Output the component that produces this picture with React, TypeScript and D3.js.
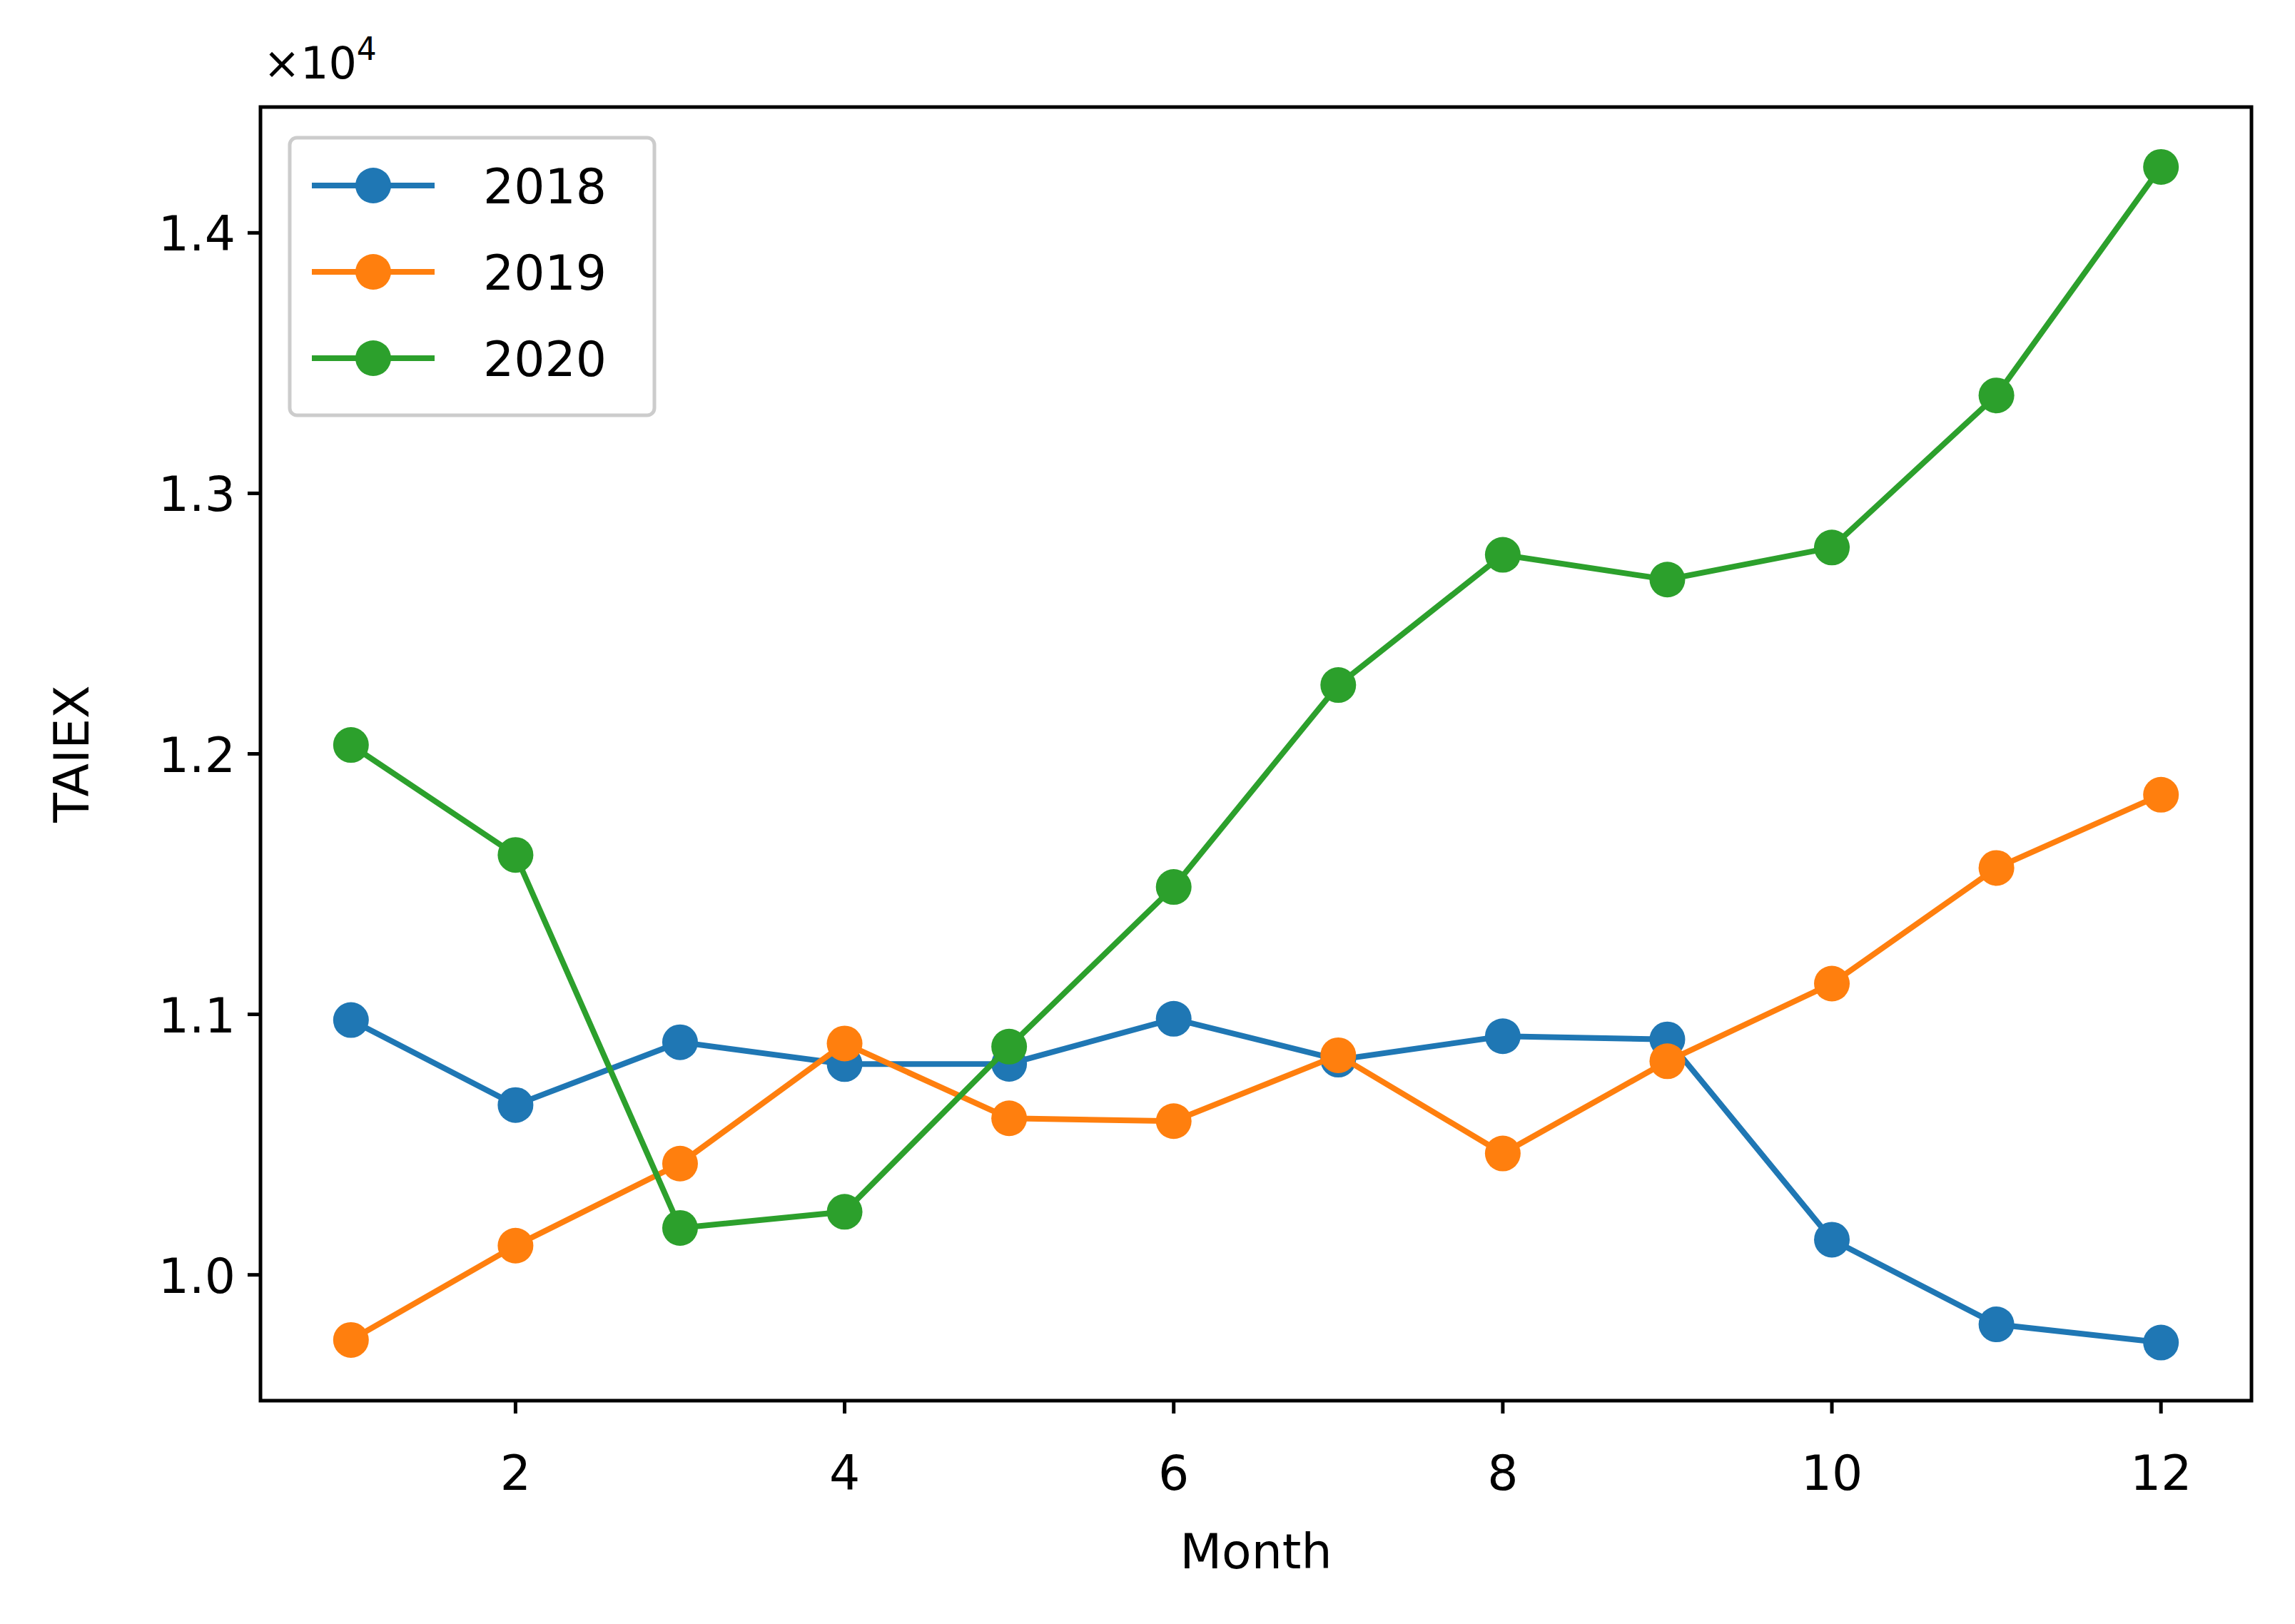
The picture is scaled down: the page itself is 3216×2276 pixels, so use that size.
import React from 'react';
import * as d3 from 'd3';

const months = [1, 2, 3, 4, 5, 6, 7, 8, 9, 10, 11, 12];
const taiex2018 = [10978, 10652, 10893, 10809, 10810, 10983, 10826, 10916, 10904, 10135, 9810, 9740];
const taiex2019 = [9750, 10112, 10427, 10888, 10601, 10590, 10843, 10466, 10820, 11118, 11562, 11843];
const taiex2020 = [12034, 11612, 10180, 10242, 10876, 11489, 12264, 12764, 12669, 12792, 13376, 14253];
const seriesNames = ['2018', '2019', '2020'];
const colors = ['#1f77b4', '#ff7f0e', '#2ca02c'];
const xTicks = [2, 4, 6, 8, 10, 12];
const yTicks = [10000, 11000, 12000, 13000, 14000];

const W = 3216, H = 2276;
const L = 365, R = 3155, T = 150, B = 1963;
const font = 'DejaVu Sans, sans-serif';
const fs = 68;

export default function App() {
  const x = d3.scaleLinear().domain([0.45, 12.55]).range([L, R]);
  const y = d3.scaleLinear().domain([9517, 14483]).range([B, T]);
  const line = d3.line<number>().x((_, i) => x(months[i])).y(d => y(d));
  const all = [taiex2018, taiex2019, taiex2020];
  return (
    <svg width={W} height={H} style={{ display: 'block', position: 'absolute', left: 0, top: 0 }}>
      <rect width={W} height={H} fill="#fff" />
      {all.map((s, k) => (
        <g key={k}>
          <path d={line(s) || ''} fill="none" stroke={colors[k]} strokeWidth={8} />
          {s.map((v, i) => <circle key={i} cx={x(months[i])} cy={y(v)} r={25} fill={colors[k]} />)}
        </g>
      ))}
      <rect x={L} y={T} width={R - L} height={B - T} fill="none" stroke="#000" strokeWidth={5} />
      {xTicks.map(t => (
        <g key={t}>
          <line x1={x(t)} x2={x(t)} y1={B} y2={B + 18} stroke="#000" strokeWidth={5} />
          <text x={x(t)} y={2088} fontSize={fs} fontFamily={font} textAnchor="middle">{t}</text>
        </g>
      ))}
      {yTicks.map(t => (
        <g key={t}>
          <line x1={L - 18} x2={L} y1={y(t)} y2={y(t)} stroke="#000" strokeWidth={5} />
          <text x={330} y={y(t) + 25} fontSize={fs} fontFamily={font} textAnchor="end">{(t / 10000).toFixed(1)}</text>
        </g>
      ))}
      <text x={369} y={110} fontSize={62} fontFamily={font}>×10<tspan fontSize={44} dy={-26}>4</tspan></text>
      <text x={(L + R) / 2} y={2198} fontSize={fs} fontFamily={font} textAnchor="middle">Month</text>
      <text transform={`translate(124,${(T + B) / 2}) rotate(-90)`} fontSize={fs} fontFamily={font} textAnchor="middle">TAIEX</text>
      <rect x={406} y={193} width={511} height={389} rx={10} fill="#fff" fillOpacity={0.8} stroke="#ccc" strokeWidth={5} />
      {seriesNames.map((n, k) => {
        const ly = 260 + k * 121;
        return (
          <g key={n}>
            <line x1={437} x2={609} y1={ly} y2={ly} stroke={colors[k]} strokeWidth={8} />
            <circle cx={523} cy={ly} r={25} fill={colors[k]} />
            <text x={677} y={ly + 25} fontSize={fs} fontFamily={font}>{n}</text>
          </g>
        );
      })}
    </svg>
  );
}
